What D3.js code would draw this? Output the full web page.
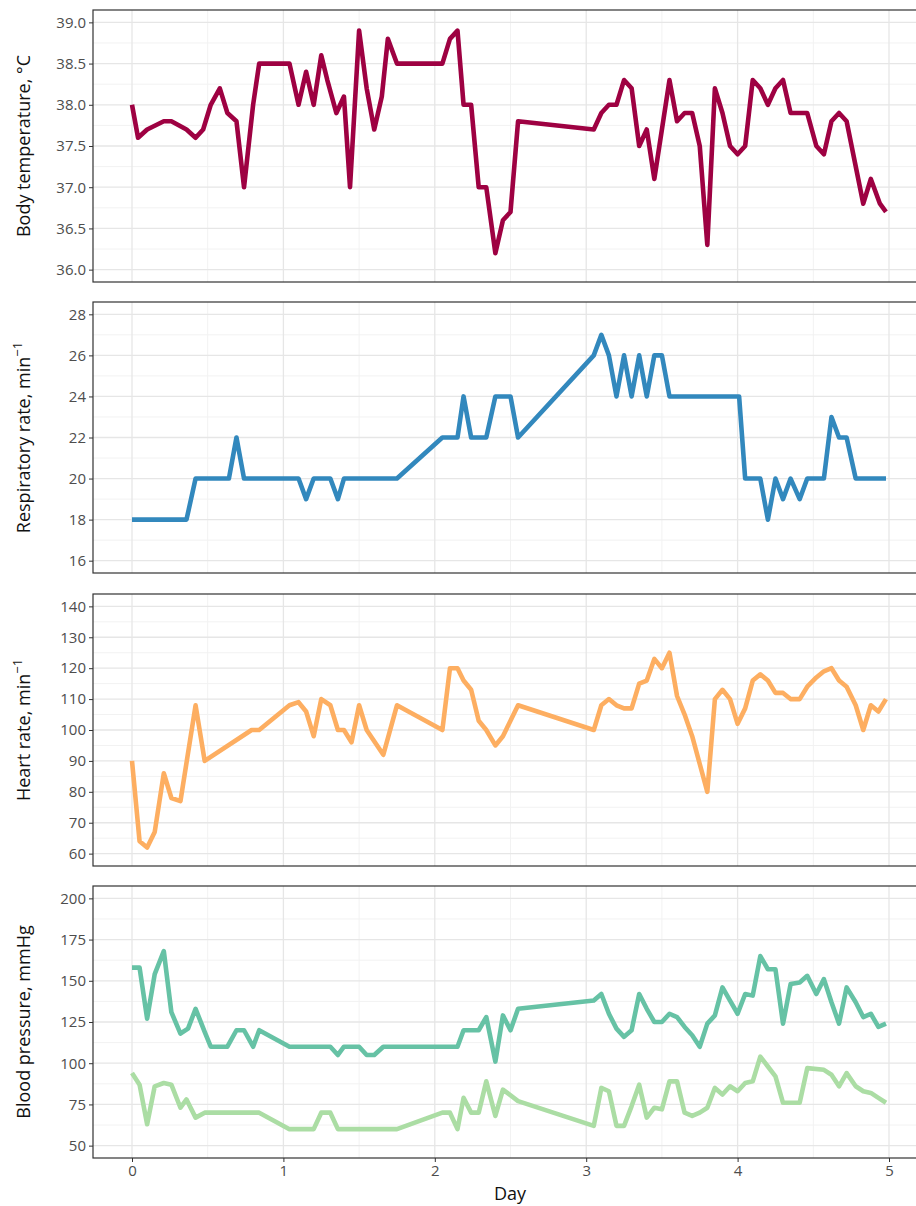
<!DOCTYPE html>
<html>
<head>
<meta charset="utf-8">
<script src="https://cdn.jsdelivr.net/npm/d3@7"></script>
<style>
  body { margin: 0; background: #fff; }
  svg { display: block; font-family: "Open Sans", "Noto Sans", sans-serif; }
</style>
</head>
<body>
<div id="main"></div>
<script>
// vital signs over five days
var tempDay = [0, 0.04, 0.10, 0.21, 0.26, 0.36, 0.42, 0.47, 0.52, 0.58, 0.63, 0.69, 0.74, 0.80, 0.84, 1.04, 1.10, 1.15, 1.20, 1.25, 1.29, 1.35, 1.40, 1.44, 1.50, 1.55, 1.60, 1.65, 1.69, 1.75, 2.05, 2.10, 2.15, 2.19, 2.24, 2.29, 2.34, 2.40, 2.45, 2.50, 2.55, 3.05, 3.10, 3.15, 3.20, 3.25, 3.30, 3.35, 3.40, 3.45, 3.55, 3.60, 3.65, 3.70, 3.75, 3.80, 3.85, 3.90, 3.95, 4.00, 4.05, 4.10, 4.15, 4.20, 4.25, 4.30, 4.35, 4.46, 4.52, 4.57, 4.62, 4.67, 4.72, 4.83, 4.88, 4.94, 4.98];
var tempVal = [38.0, 37.6, 37.7, 37.8, 37.8, 37.7, 37.6, 37.7, 38.0, 38.2, 37.9, 37.8, 37.0, 38.0, 38.5, 38.5, 38.0, 38.4, 38.0, 38.6, 38.3, 37.9, 38.1, 37.0, 38.9, 38.2, 37.7, 38.1, 38.8, 38.5, 38.5, 38.8, 38.9, 38.0, 38.0, 37.0, 37.0, 36.2, 36.6, 36.7, 37.8, 37.7, 37.9, 38.0, 38.0, 38.3, 38.2, 37.5, 37.7, 37.1, 38.3, 37.8, 37.9, 37.9, 37.5, 36.3, 38.2, 37.9, 37.5, 37.4, 37.5, 38.3, 38.2, 38.0, 38.2, 38.3, 37.9, 37.9, 37.5, 37.4, 37.8, 37.9, 37.8, 36.8, 37.1, 36.8, 36.7];

var respDay = [0, 0.36, 0.42, 0.64, 0.69, 0.74, 1.10, 1.15, 1.20, 1.31, 1.36, 1.40, 1.75, 2.05, 2.15, 2.19, 2.24, 2.34, 2.40, 2.50, 2.55, 3.05, 3.10, 3.15, 3.20, 3.25, 3.30, 3.35, 3.40, 3.45, 3.50, 3.55, 4.01, 4.05, 4.15, 4.20, 4.25, 4.30, 4.35, 4.41, 4.46, 4.57, 4.62, 4.67, 4.72, 4.78, 4.98];
var respVal = [18, 18, 20, 20, 22, 20, 20, 19, 20, 20, 19, 20, 20, 22, 22, 24, 22, 22, 24, 24, 22, 26, 27, 26, 24, 26, 24, 26, 24, 26, 26, 24, 24, 20, 20, 18, 20, 19, 20, 19, 20, 20, 23, 22, 22, 20, 20];

var hrDay = [0, 0.05, 0.10, 0.15, 0.21, 0.26, 0.32, 0.42, 0.48, 0.79, 0.84, 1.04, 1.10, 1.15, 1.20, 1.25, 1.31, 1.36, 1.40, 1.45, 1.50, 1.55, 1.66, 1.75, 2.05, 2.10, 2.15, 2.19, 2.24, 2.29, 2.34, 2.40, 2.45, 2.55, 3.05, 3.10, 3.15, 3.20, 3.25, 3.30, 3.35, 3.40, 3.45, 3.50, 3.55, 3.60, 3.65, 3.70, 3.75, 3.80, 3.85, 3.90, 3.95, 4.00, 4.05, 4.10, 4.15, 4.20, 4.25, 4.30, 4.35, 4.41, 4.46, 4.52, 4.57, 4.62, 4.67, 4.72, 4.78, 4.83, 4.88, 4.93, 4.98];
var hrVal = [90, 64, 62, 67, 86, 78, 77, 108, 90, 100, 100, 108, 109, 106, 98, 110, 108, 100, 100, 96, 108, 100, 92, 108, 100, 120, 120, 116, 113, 103, 100, 95, 98, 108, 100, 108, 110, 108, 107, 107, 115, 116, 123, 120, 125, 111, 105, 98, 89, 80, 110, 113, 110, 102, 107, 116, 118, 116, 112, 112, 110, 110, 114, 117, 119, 120, 116, 114, 108, 100, 108, 106, 110];

var sysDay = [0, 0.05, 0.10, 0.15, 0.21, 0.26, 0.32, 0.37, 0.42, 0.48, 0.52, 0.63, 0.69, 0.74, 0.80, 0.84, 1.04, 1.31, 1.36, 1.40, 1.50, 1.55, 1.60, 1.66, 2.15, 2.19, 2.29, 2.34, 2.40, 2.45, 2.50, 2.55, 3.05, 3.10, 3.15, 3.20, 3.25, 3.30, 3.35, 3.40, 3.45, 3.50, 3.55, 3.60, 3.65, 3.70, 3.75, 3.80, 3.85, 3.90, 3.95, 4.00, 4.05, 4.10, 4.15, 4.20, 4.25, 4.30, 4.35, 4.41, 4.46, 4.52, 4.57, 4.62, 4.67, 4.72, 4.78, 4.83, 4.88, 4.93, 4.98];
var sysVal = [158, 158, 127, 154, 168, 131, 118, 121, 133, 119, 110, 110, 120, 120, 110, 120, 110, 110, 105, 110, 110, 105, 105, 110, 110, 120, 120, 128, 101, 129, 120, 133, 138, 142, 130, 121, 116, 120, 142, 133, 125, 125, 130, 128, 122, 117, 110, 124, 129, 146, 138, 130, 142, 141, 165, 157, 157, 124, 148, 149, 153, 142, 151, 137, 124, 146, 137, 128, 130, 122, 124];

var diaDay = [0, 0.05, 0.10, 0.15, 0.21, 0.26, 0.32, 0.36, 0.42, 0.48, 0.84, 1.04, 1.20, 1.25, 1.31, 1.36, 1.75, 2.05, 2.10, 2.15, 2.19, 2.24, 2.29, 2.34, 2.40, 2.45, 2.55, 3.05, 3.10, 3.15, 3.20, 3.25, 3.30, 3.35, 3.40, 3.45, 3.50, 3.55, 3.60, 3.65, 3.70, 3.75, 3.80, 3.85, 3.90, 3.95, 4.00, 4.05, 4.10, 4.15, 4.20, 4.25, 4.30, 4.35, 4.41, 4.46, 4.57, 4.62, 4.67, 4.72, 4.78, 4.83, 4.88, 4.93, 4.98];
var diaVal = [94, 87, 63, 86, 88, 87, 73, 78, 67, 70, 70, 60, 60, 70, 70, 60, 60, 70, 70, 60, 79, 70, 70, 89, 68, 84, 77, 62, 85, 83, 62, 62, 74, 87, 67, 73, 72, 89, 89, 70, 68, 70, 73, 85, 81, 86, 83, 88, 89, 104, 98, 92, 76, 76, 76, 97, 96, 93, 86, 94, 86, 83, 82, 79, 76];

var dayTicks = [0, 1, 2, 3, 4, 5];
var tempTicks = [36.0, 36.5, 37.0, 37.5, 38.0, 38.5, 39.0];
var respTicks = [16, 18, 20, 22, 24, 26, 28];
var hrTicks = [60, 70, 80, 90, 100, 110, 120, 130, 140];
var bpTicks = [50, 75, 100, 125, 150, 175, 200];

var width = 916;
var height = 1206;
var left = 93;
var right = 930;   // panel runs past the window edge, as in the cropped original

var svgContainer = d3.select('#main').append('svg')
	.attr('width', width)
	.attr('height', height);

var x = d3.scaleLinear().domain([0, 5]).range([132, 889]);

var panels = [
	{ top: 10, bottom: 282, domain: [35.85, 39.15], ticks: tempTicks, step: 0.5, fmt: d3.format('.1f'),
		title: 'Body temperature, °C', sup: null,
		lines: [{ d: tempDay, v: tempVal, c: '#9E0142' }] },
	{ top: 302, bottom: 573, domain: [15.4, 28.6], ticks: respTicks, step: 2, fmt: d3.format('d'),
		title: 'Respiratory rate, min', sup: '−1',
		lines: [{ d: respDay, v: respVal, c: '#3288BD' }] },
	{ top: 594, bottom: 866, domain: [56, 144], ticks: hrTicks, step: 10, fmt: d3.format('d'),
		title: 'Heart rate, min', sup: '−1',
		lines: [{ d: hrDay, v: hrVal, c: '#FDAE61' }] },
	{ top: 886, bottom: 1158, domain: [42.5, 207.5], ticks: bpTicks, step: 25, fmt: d3.format('d'),
		title: 'Blood pressure, mmHg', sup: null,
		lines: [{ d: diaDay, v: diaVal, c: '#ABDDA4' }, { d: sysDay, v: sysVal, c: '#66C2A5' }] }
];

panels.forEach(function (p, i) {
	var y = d3.scaleLinear().domain(p.domain).range([p.bottom, p.top]);
	var g = svgContainer.append('g');
	var clipId = 'clip' + i;

	g.append('clipPath').attr('id', clipId).append('rect')
		.attr('x', left).attr('y', p.top)
		.attr('width', right - left).attr('height', p.bottom - p.top);

	// minor grid
	var minorY = p.ticks.map(function (t) { return t - p.step / 2; })
		.concat([p.ticks[p.ticks.length - 1] + p.step / 2])
		.filter(function (t) { return t > p.domain[0] && t < p.domain[1]; });
	var minorX = [0.5, 1.5, 2.5, 3.5, 4.5];

	g.selectAll('.minorY').data(minorY).enter().append('line')
		.attr('x1', left).attr('x2', right)
		.attr('y1', function (d) { return y(d); }).attr('y2', function (d) { return y(d); })
		.style('stroke', '#f2f2f2').style('stroke-width', 1);
	g.selectAll('.minorX').data(minorX).enter().append('line')
		.attr('y1', p.top).attr('y2', p.bottom)
		.attr('x1', function (d) { return x(d); }).attr('x2', function (d) { return x(d); })
		.style('stroke', '#f2f2f2').style('stroke-width', 1);

	// major grid
	g.selectAll('.majorY').data(p.ticks).enter().append('line')
		.attr('x1', left).attr('x2', right)
		.attr('y1', function (d) { return y(d); }).attr('y2', function (d) { return y(d); })
		.style('stroke', '#e6e6e6').style('stroke-width', 1.3);
	g.selectAll('.majorX').data(dayTicks).enter().append('line')
		.attr('y1', p.top).attr('y2', p.bottom)
		.attr('x1', function (d) { return x(d); }).attr('x2', function (d) { return x(d); })
		.style('stroke', '#e6e6e6').style('stroke-width', 1.3);

	// series
	p.lines.forEach(function (s) {
		var pts = d3.zip(s.d, s.v);
		g.append('path')
			.attr('clip-path', 'url(#' + clipId + ')')
			.attr('d', d3.line().x(function (d) { return x(d[0]); }).y(function (d) { return y(d[1]); })(pts))
			.style('fill', 'none')
			.style('stroke', s.c)
			.style('stroke-width', 4.6)
			.style('stroke-linejoin', 'round')
			.style('stroke-linecap', 'butt');
	});

	// frame
	g.append('rect')
		.attr('x', left).attr('y', p.top)
		.attr('width', right - left).attr('height', p.bottom - p.top)
		.style('fill', 'none').style('stroke', '#333333').style('stroke-width', 1.2);

	// y axis
	var yAxis = g.append('g').attr('transform', 'translate(' + left + ',0)')
		.call(d3.axisLeft(y).tickValues(p.ticks).tickFormat(p.fmt).tickSize(4).tickPadding(3));
	yAxis.select('.domain').remove();
	yAxis.selectAll('line').style('stroke', '#333333');
	yAxis.selectAll('text').style('fill', '#4d4d4d').style('font-size', '15px')
		.style('font-family', '"Open Sans", sans-serif');

	var cy = (p.top + p.bottom) / 2;
	var title = g.append('text')
		.attr('transform', 'translate(30,' + cy + ') rotate(-90)')
		.attr('text-anchor', 'middle')
		.style('font-size', '18px')
		.style('fill', '#111');
	title.append('tspan').text(p.title);
	if (p.sup) {
		title.append('tspan').attr('dy', -8).style('font-size', '13px').text(p.sup);
	}

	// x axis on the bottom panel only
	if (i === panels.length - 1) {
		var xAxis = g.append('g').attr('transform', 'translate(0,' + p.bottom + ')')
			.call(d3.axisBottom(x).tickValues(dayTicks).tickFormat(d3.format('d')).tickSize(4).tickPadding(3));
		xAxis.select('.domain').remove();
		xAxis.selectAll('line').style('stroke', '#333333');
		xAxis.selectAll('text').style('fill', '#4d4d4d').style('font-size', '15px')
			.style('font-family', '"Open Sans", sans-serif');
		g.append('text')
			.attr('x', 510).attr('y', 1200)
			.attr('text-anchor', 'middle')
			.style('font-size', '18px')
			.style('fill', '#111')
			.text('Day');
	}
});
</script>
</body>
</html>
